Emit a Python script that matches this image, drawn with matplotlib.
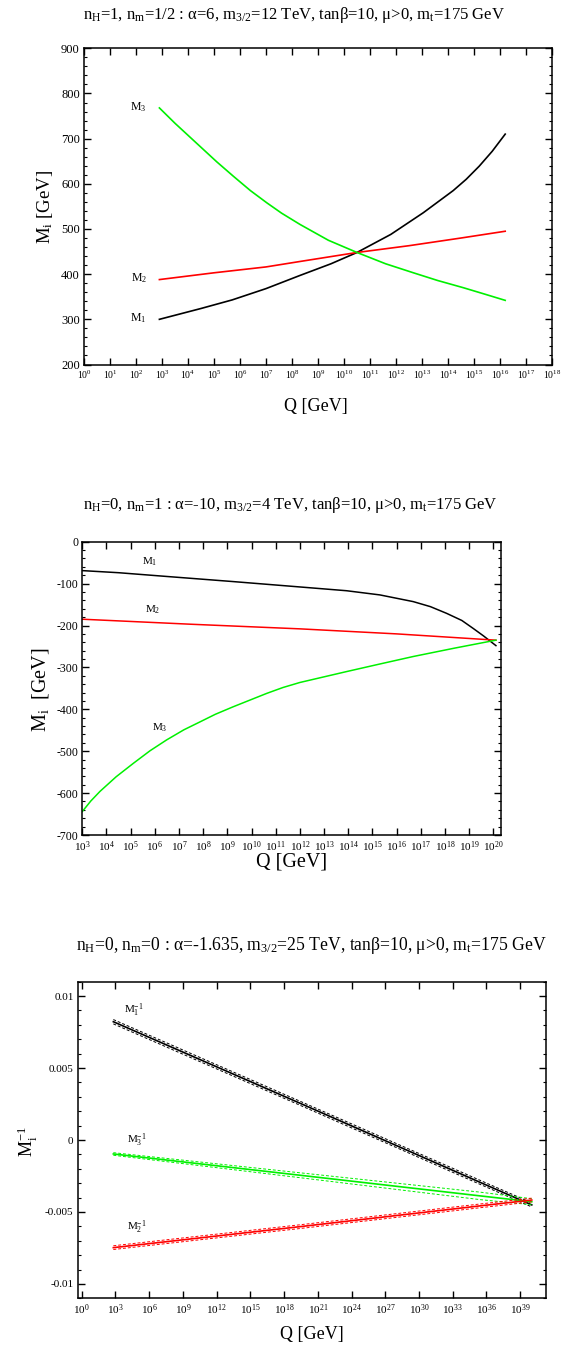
import numpy as np
import matplotlib
matplotlib.use("Agg")
import matplotlib.pyplot as plt
from matplotlib.ticker import MultipleLocator, FixedLocator, NullLocator, LogFormatterMathtext, FuncFormatter

plt.rcParams["font.family"] = ["Liberation Serif", "DejaVu Serif"]
plt.rcParams["mathtext.fontset"] = "custom"
plt.rcParams["mathtext.rm"] = "Liberation Serif"
plt.rcParams["mathtext.it"] = "Liberation Serif:italic"
plt.rcParams["mathtext.bf"] = "Liberation Serif:bold"
plt.rcParams["axes.unicode_minus"] = False
plt.rcParams["axes.linewidth"] = 1.1

GREEN = "#00f000"

# --- top: n_H=1, n_m=1/2 (log10 of Q in GeV, masses in GeV)
p1_m1_logq = [2.9, 3.7, 4.5, 5.7, 7.0, 8.3, 9.5, 10.5, 11.8, 13.05, 14.2, 14.7, 15.2, 15.7, 16.2]
p1_m1 = [300, 312, 324, 343, 368, 397, 423, 448, 488, 536, 585, 610, 639, 672, 710]
p1_m2_logq = [2.9, 5.0, 7.0, 8.3, 10.5, 12.5, 14.5, 16.2]
p1_m2 = [388, 403, 416, 428, 448, 463, 480, 495]
p1_m3_logq = [2.9, 3.5, 4.46, 5.1, 5.74, 6.4, 7.03, 7.6, 8.31, 9.4, 10.5, 11.6, 12.67, 13.6, 14.59, 15.4, 16.2]
p1_m3 = [768, 734, 683, 649, 617, 585, 558, 535, 510, 475, 448, 423, 403, 386, 370, 356, 342]

# --- middle: n_H=0, n_m=1
p2_m1_logq = [3.0, 4.5, 6.5, 9.2, 12.0, 13.93, 15.31, 16.69, 17.4, 18.07, 18.7, 19.17, 19.6, 20.11]
p2_m1 = [-69, -74, -83, -95, -108, -117, -127, -143, -155, -171, -188, -207, -225, -248]
p2_m2_logq = [3.0, 7.5, 12.0, 16.0, 20.11]
p2_m2 = [-185, -197, -208, -220, -235]
p2_m3_logq = [3.0, 3.35, 3.73, 4.4, 5.11, 5.8, 6.49, 7.2, 7.87, 8.5, 9.24, 10.63, 11.3, 12.0,
              13.93, 15.3, 16.69, 18.4, 20.11]
p2_m3 = [-644, -619, -596, -561, -529, -499, -473, -449, -430, -412, -394, -362, -348, -336,
         -310, -292, -274, -254, -235]

# --- bottom: n_H=0, n_m=0, inverse masses with upper/lower dashed bands
p3_logq = [2.81, 19.43, 35.4, 40.03]
p3_m1 = [0.00822, 0.00255, -0.00293, -0.00451]
p3_m1_hi = [0.00837, 0.00269, -0.00279, -0.00437]
p3_m1_lo = [0.00807, 0.00241, -0.00307, -0.00465]
p3_m2 = [-0.00748, -0.00602, -0.00458, -0.00417]
p3_m2_hi = [-0.00735, -0.00589, -0.00445, -0.00404]
p3_m2_lo = [-0.00761, -0.00615, -0.00471, -0.00430]
p3_m3 = [-0.00097, -0.00245, -0.00388, -0.00429]
p3_m3_hi = [-0.00088, -0.00228, -0.00362, -0.00408]
p3_m3_lo = [-0.00106, -0.00262, -0.00414, -0.00450]


def q(logq):
    return 10.0 ** np.asarray(logq, dtype=float)


def style_axes(ax, xtick_size, ytick_size):
    ax.tick_params(which="both", direction="in", top=True, right=True)
    ax.tick_params(which="major", length=5, width=1.0)
    ax.tick_params(which="minor", length=2.5, width=0.8)
    ax.tick_params(axis="x", labelsize=xtick_size, pad=3)
    ax.tick_params(axis="y", labelsize=ytick_size, pad=3)


fig = plt.figure(figsize=(5.62, 13.53), dpi=100)
W, H = 562.0, 1353.0


def axes_px(left, top, right, bottom):
    return fig.add_axes([left / W, 1 - bottom / H, (right - left) / W, (bottom - top) / H])


def ftext(x, y, s, size, **kw):
    fig.text(x / W, 1 - y / H, s, fontsize=size, ha="center", va="center", **kw)


# top panel
ax1 = axes_px(84, 48.3, 552, 364.5)
ax1.set_xscale("log")
ax1.plot(q(p1_m1_logq), p1_m1, color="black", lw=1.2)
ax1.plot(q(p1_m2_logq), p1_m2, color="red", lw=1.2)
ax1.plot(q(p1_m3_logq), p1_m3, color=GREEN, lw=1.2)
ax1.set_xlim(1, 1e18)
ax1.set_ylim(200, 900)
ax1.xaxis.set_major_locator(FixedLocator(q(np.arange(0, 19))))
ax1.xaxis.set_minor_locator(NullLocator())
ax1.xaxis.set_major_formatter(LogFormatterMathtext())
ax1.yaxis.set_major_locator(MultipleLocator(100))
ax1.yaxis.set_minor_locator(MultipleLocator(20))
style_axes(ax1, 7, 9)
ax1.text(q(2.1), 770, r"M$_\mathregular{3}$", fontsize=8.5, ha="center", va="center")
ax1.text(q(2.1), 392, r"M$_\mathregular{2}$", fontsize=8.5, ha="center", va="center")
ax1.text(q(2.1), 302, r"M$_\mathregular{1}$", fontsize=8.5, ha="center", va="center")
ftext(294, 15, r"n$_\mathregular{H}$=1, n$_\mathregular{m}$=1/2 : α=6, m$_\mathregular{3/2}$=12 TeV, tanβ=10, μ>0, m$_\mathregular{t}$=175 GeV", 12)
ftext(316, 406, "Q [GeV]", 13)
ftext(45, 207, r"M$_\mathregular{i}$ [GeV]", 13.5, rotation=90)

# middle panel
ax2 = axes_px(82.3, 541.7, 501, 835)
ax2.set_xscale("log")
ax2.plot(q(p2_m1_logq), p2_m1, color="black", lw=1.1)
ax2.plot(q(p2_m2_logq), p2_m2, color="red", lw=1.1)
ax2.plot(q(p2_m3_logq), p2_m3, color=GREEN, lw=1.1)
ax2.set_xlim(1e3, 10 ** 20.32)
ax2.set_ylim(-700, 0)
ax2.xaxis.set_major_locator(FixedLocator(q(np.arange(3, 21))))
ax2.xaxis.set_minor_locator(NullLocator())
ax2.xaxis.set_major_formatter(LogFormatterMathtext())
ax2.yaxis.set_major_locator(MultipleLocator(100))
ax2.yaxis.set_minor_locator(MultipleLocator(20))
style_axes(ax2, 8, 8.5)
ax2.text(q(5.8), -48, r"M$_\mathregular{1}$", fontsize=8, ha="center", va="center")
ax2.text(q(5.9), -163, r"M$_\mathregular{2}$", fontsize=8, ha="center", va="center")
ax2.text(q(6.2), -445, r"M$_\mathregular{3}$", fontsize=8, ha="center", va="center")
ftext(290, 505, r"n$_\mathregular{H}$=0, n$_\mathregular{m}$=1 : α=-10, m$_\mathregular{3/2}$=4 TeV, tanβ=10, μ>0, m$_\mathregular{t}$=175 GeV", 12)
ftext(292, 862, "Q [GeV]", 14.5)
ftext(40, 690, r"M$_\mathregular{i}$  [GeV]", 14.5, rotation=90)

# bottom panel
ax3 = axes_px(77.7, 981.7, 545.7, 1298.3)
ax3.set_xscale("log")
for mid, hi, lo, col in [(p3_m1, p3_m1_hi, p3_m1_lo, "black"),
                         (p3_m3, p3_m3_hi, p3_m3_lo, GREEN),
                         (p3_m2, p3_m2_hi, p3_m2_lo, "red")]:
    ax3.plot(q(p3_logq), mid, color=col, lw=1.2)
    ax3.plot(q(p3_logq), hi, color=col, lw=0.7, ls=(0, (3, 2)))
    ax3.plot(q(p3_logq), lo, color=col, lw=0.7, ls=(0, (3, 2)))
ax3.set_xlim(10 ** -0.36, 10 ** 41.27)
ax3.set_ylim(-0.011, 0.011)
ax3.xaxis.set_major_locator(FixedLocator(q(np.arange(0, 40, 3))))
ax3.xaxis.set_minor_locator(NullLocator())
ax3.xaxis.set_major_formatter(LogFormatterMathtext())
ax3.yaxis.set_major_locator(MultipleLocator(0.005))
ax3.yaxis.set_minor_locator(MultipleLocator(0.001))
ax3.yaxis.set_major_formatter(FuncFormatter(lambda v, p: "0" if abs(v) < 1e-9 else "%g" % v))
style_axes(ax3, 8, 8)
ax3.text(q(4.6), 0.0090, r"M$_\mathregular{1}^\mathregular{-1}$", fontsize=8, ha="center", va="center")
ax3.text(q(4.9), 0.0000, r"M$_\mathregular{3}^\mathregular{-1}$", fontsize=8, ha="center", va="center")
ax3.text(q(4.9), -0.0061, r"M$_\mathregular{2}^\mathregular{-1}$", fontsize=8, ha="center", va="center")
ftext(311, 945, r"n$_\mathregular{H}$=0, n$_\mathregular{m}$=0 : α=-1.635, m$_\mathregular{3/2}$=25 TeV, tanβ=10, μ>0, m$_\mathregular{t}$=175 GeV", 12.7)
ftext(312, 1335, "Q [GeV]", 13)
ftext(28, 1142, r"M$_\mathregular{i}^\mathregular{-1}$", 13, rotation=90)

fig.savefig("out.png", dpi=100)
